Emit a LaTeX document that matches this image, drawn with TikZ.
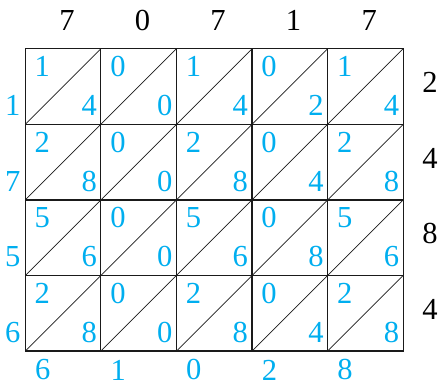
\documentclass[tikz,border=0pt]{standalone}
\usepackage{fontspec}
\setmainfont{Liberation Serif}
\usetikzlibrary{positioning,calc}
\definecolor{Ink}{HTML}{1A1A1A}
\definecolor{Digit}{HTML}{00AEEF}

\begin{document}
\begin{tikzpicture}[x=1cm,y=1cm,
  factor/.style={font=\fontsize{23}{23}\selectfont,text=black,inner sep=0pt},
  partial/.style={font=\fontsize{23}{23}\selectfont,text=Digit,inner sep=0pt}]
\useasboundingbox (-0.67,-0.90) rectangle (11.00,9.29);
% multiplicand on top, multiplier on the right
\node[factor] (top1) at (1.10,8.76) {7};
\node[factor] (top2) at (3.10,8.76) {0};
\node[factor] (top3) at (5.10,8.76) {7};
\node[factor] (top4) at (7.10,8.76) {1};
\node[factor] (top5) at (9.10,8.76) {7};
\node[factor] (right1) at (10.71,7.10) {2};
\node[factor] (right2) at (10.71,5.10) {4};
\node[factor] (right3) at (10.71,3.10) {8};
\node[factor] (right4) at (10.71,1.10) {4};
% lattice
\draw[Ink,line width=0.9pt] (0,0) rectangle (10,8);
\draw[Ink,line width=0.9pt] (2,0) -- (2,8);
\draw[Ink,line width=0.9pt] (4,0) -- (4,8);
\draw[Ink,line width=0.9pt] (6,0) -- (6,8);
\draw[Ink,line width=0.9pt] (8,0) -- (8,8);
\draw[Ink,line width=0.9pt] (0,2) -- (10,2);
\draw[Ink,line width=0.9pt] (0,4) -- (10,4);
\draw[Ink,line width=0.9pt] (0,6) -- (10,6);
\draw[Ink,line width=0.55pt] (0,6) -- (2,8);
\draw[Ink,line width=0.55pt] (0,4) -- (4,8);
\draw[Ink,line width=0.55pt] (0,2) -- (6,8);
\draw[Ink,line width=0.55pt] (0,0) -- (8,8);
\draw[Ink,line width=0.55pt] (2,0) -- (10,8);
\draw[Ink,line width=0.55pt] (4,0) -- (10,6);
\draw[Ink,line width=0.55pt] (6,0) -- (10,4);
\draw[Ink,line width=0.55pt] (8,0) -- (10,2);
% row 1
\node[partial] (c11t) at (0.45,7.53) {1};
\node[partial] (c11u) at (1.69,6.50) {4};
\node[partial] (c12t) at (2.45,7.53) {0};
\node[partial] (c12u) at (3.69,6.50) {0};
\node[partial] (c13t) at (4.45,7.53) {1};
\node[partial] (c13u) at (5.69,6.50) {4};
\node[partial] (c14t) at (6.45,7.53) {0};
\node[partial] (c14u) at (7.69,6.50) {2};
\node[partial] (c15t) at (8.45,7.53) {1};
\node[partial] (c15u) at (9.69,6.50) {4};
% row 2
\node[partial] (c21t) at (0.45,5.53) {2};
\node[partial] (c21u) at (1.69,4.50) {8};
\node[partial] (c22t) at (2.45,5.53) {0};
\node[partial] (c22u) at (3.69,4.50) {0};
\node[partial] (c23t) at (4.45,5.53) {2};
\node[partial] (c23u) at (5.69,4.50) {8};
\node[partial] (c24t) at (6.45,5.53) {0};
\node[partial] (c24u) at (7.69,4.50) {4};
\node[partial] (c25t) at (8.45,5.53) {2};
\node[partial] (c25u) at (9.69,4.50) {8};
% row 3
\node[partial] (c31t) at (0.45,3.53) {5};
\node[partial] (c31u) at (1.69,2.50) {6};
\node[partial] (c32t) at (2.45,3.53) {0};
\node[partial] (c32u) at (3.69,2.50) {0};
\node[partial] (c33t) at (4.45,3.53) {5};
\node[partial] (c33u) at (5.69,2.50) {6};
\node[partial] (c34t) at (6.45,3.53) {0};
\node[partial] (c34u) at (7.69,2.50) {8};
\node[partial] (c35t) at (8.45,3.53) {5};
\node[partial] (c35u) at (9.69,2.50) {6};
% row 4
\node[partial] (c41t) at (0.45,1.53) {2};
\node[partial] (c41u) at (1.69,0.50) {8};
\node[partial] (c42t) at (2.45,1.53) {0};
\node[partial] (c42u) at (3.69,0.50) {0};
\node[partial] (c43t) at (4.45,1.53) {2};
\node[partial] (c43u) at (5.69,0.50) {8};
\node[partial] (c44t) at (6.45,1.53) {0};
\node[partial] (c44u) at (7.69,0.50) {4};
\node[partial] (c45t) at (8.45,1.53) {2};
\node[partial] (c45u) at (9.69,0.50) {8};
% diagonal sums
\node[partial] (left1) at (-0.33,6.50) {1};
\node[partial] (left2) at (-0.33,4.50) {7};
\node[partial] (left3) at (-0.33,2.50) {5};
\node[partial] (left4) at (-0.33,0.50) {6};
\node[partial] (bot1) at (0.46,-0.50) {6};
\node[partial] (bot2) at (2.46,-0.50) {1};
\node[partial] (bot3) at (4.46,-0.50) {0};
\node[partial] (bot4) at (6.46,-0.50) {2};
\node[partial] (bot5) at (8.46,-0.50) {8};
\end{tikzpicture}
\end{document}
